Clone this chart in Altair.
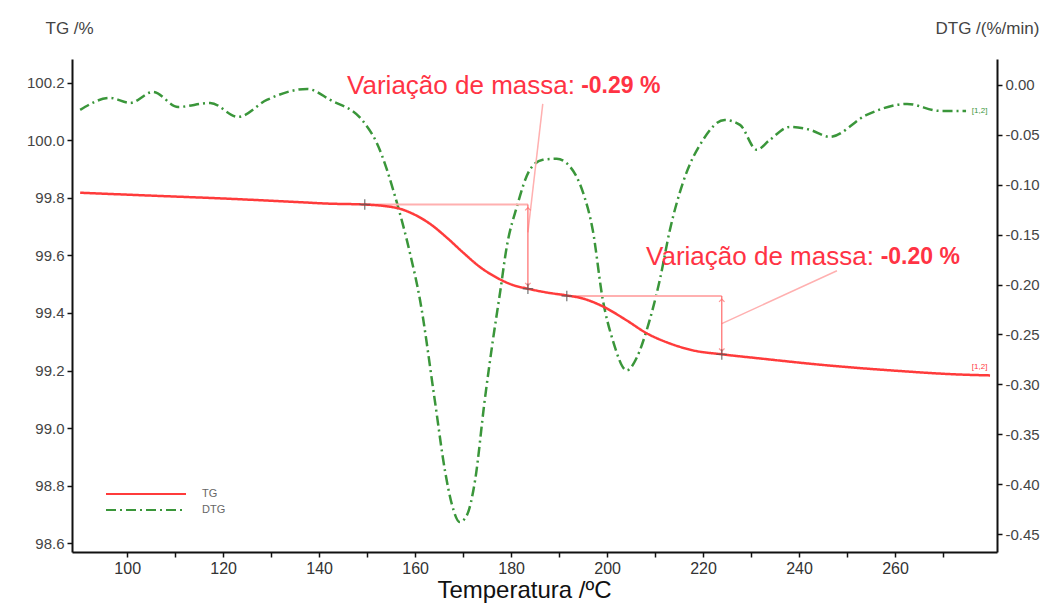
import altair as alt
import pandas as pd

# ---------------- data ----------------
tg_temp = [90.2, 105.0, 121.4, 135.0, 142.3, 149.5, 156.2, 159.5, 163.1, 166.6, 170.0,
           173.5, 177.1, 180.4, 183.3, 187.5, 191.6, 195.0, 199.1, 204.1, 208.3, 213.1,
           217.9, 224.1, 231.8, 245.8, 259.5, 273.5, 279.8]
tg_mass = [99.818, 99.808, 99.797, 99.786, 99.780, 99.777, 99.765, 99.745, 99.710, 99.662, 99.610,
           99.560, 99.522, 99.497, 99.485, 99.471, 99.461, 99.450, 99.423, 99.374, 99.329, 99.294,
           99.270, 99.256, 99.242, 99.218, 99.200, 99.186, 99.183]

dtg_temp = [90.2, 96.4, 100.6, 105.4, 110.6, 117.3, 123.1, 129.1, 137.5, 142.3, 149.1, 152.0,
            156.2, 158.9, 161.0, 164.1, 166.2, 167.7, 169.3, 170.8, 172.5, 174.5, 176.2, 177.7,
            179.1, 181.2, 183.9, 186.6, 189.5, 192.3, 195.0, 197.0, 199.1, 201.2, 204.1, 206.2,
            208.3, 211.0, 213.1, 215.8, 220.0, 224.5, 227.7, 231.2, 233.9, 238.1, 242.3, 246.4,
            254.1, 262.5, 269.3, 274.8]
dtg_rate = [-0.025, -0.013, -0.018, -0.007, -0.022, -0.018, -0.032, -0.015, -0.004, -0.015, -0.036, -0.058,
            -0.118, -0.168, -0.215, -0.316, -0.386, -0.421, -0.438, -0.431, -0.396, -0.316, -0.256, -0.208,
            -0.162, -0.122, -0.085, -0.075, -0.074, -0.082, -0.108, -0.145, -0.215, -0.256, -0.286, -0.273,
            -0.245, -0.195, -0.145, -0.098, -0.055, -0.035, -0.040, -0.065, -0.055, -0.042, -0.045, -0.052,
            -0.030, -0.019, -0.026, -0.026]

marker_temp = [149.5, 183.5, 191.6, 223.9]
marker_mass = [99.777, 99.484, 99.459, 99.256]

step_start_temp = [149.5, 191.6]
step_end_temp = [183.5, 223.9]
step_level = [99.777, 99.459]
step_bottom = [99.484, 99.256]
arrow_top = [99.766, 99.448]
arrow_bottom = [99.495, 99.267]

leader_start_temp = [186.6, 247.9]
leader_start_mass = [100.127, 99.547]
leader_end_temp = [183.5, 223.9]
leader_end_mass = [99.68, 99.363]

label_text = ["Variação de massa:", "Variação de massa:"]
label_temp = [193.3, 255.6]
label_mass = [100.19, 99.596]
value_text = ["-0.29 %", "-0.20 %"]
value_temp = [194.6, 257.0]

end_tag = ["[1,2]", "[1,2]"]
end_tag_temp = [276.0, 276.0]
tg_tag_mass = [99.197]
dtg_tag_rate = [-0.026]

series_names = ["TG", "DTG"]
series_colors = ["#ff3b3b", "#3a963a"]
series_dash = [[1, 0], [10, 4, 2, 4]]

x_ticks = [100, 110, 120, 130, 140, 150, 160, 170, 180, 190, 200, 210, 220, 230, 240, 250, 260, 270]
tg_ticks = [98.6, 98.7, 98.8, 98.9, 99.0, 99.1, 99.2, 99.3, 99.4, 99.5, 99.6, 99.7, 99.8, 99.9,
            100.0, 100.1, 100.2]
dtg_ticks = [0.0, -0.025, -0.05, -0.075, -0.1, -0.125, -0.15, -0.175, -0.2, -0.225, -0.25, -0.275,
             -0.3, -0.325, -0.35, -0.375, -0.4, -0.425, -0.45]

x_domain = [88.5, 281.25]
tg_domain = [98.569, 100.283]
dtg_domain = [-0.468, 0.026]

# ---------------- tables ----------------
tg_df = pd.DataFrame({"T": tg_temp, "v": tg_mass, "series": "TG"})
dtg_df = pd.DataFrame({"T": dtg_temp, "v": dtg_rate, "series": "DTG"})
marker_df = pd.DataFrame({"T": marker_temp, "v": marker_mass})
step_df = pd.DataFrame({"T": step_start_temp, "T2": step_end_temp, "v": step_level,
                        "vb": step_bottom, "at": arrow_top, "ab": arrow_bottom})
leader_df = pd.DataFrame({"T": leader_start_temp, "v": leader_start_mass,
                          "T2": leader_end_temp, "v2": leader_end_mass})
label_df = pd.DataFrame({"T": label_temp, "v": label_mass, "txt": label_text,
                         "Tv": value_temp, "val": value_text})
tg_tag_df = pd.DataFrame({"T": end_tag_temp[:1], "v": tg_tag_mass, "txt": end_tag[:1]})
dtg_tag_df = pd.DataFrame({"T": end_tag_temp[1:], "v": dtg_tag_rate, "txt": end_tag[1:]})

FONT = "Liberation Sans"
RED = "#ff3344"
PALE = "#ffb0b0"

xscale = alt.Scale(domain=x_domain, nice=False, zero=False)
xaxis = alt.Axis(values=x_ticks, title="Temperatura /ºC",
                 labelExpr="(datum.value % 20 == 0 && datum.value <= 260) ? datum.value : ''",
                 labelFont=FONT, labelFontSize=16, labelColor="#333", labelPadding=3,
                 titleFont=FONT, titleFontSize=24, titleFontWeight="normal", titleColor="#111",
                 titleX=452, titleY=45, titleBaseline="alphabetic", titleAnchor=None)
x_enc = alt.X("T:Q", scale=xscale, axis=xaxis)
x_plain = alt.X("T:Q", scale=xscale)

tg_scale = alt.Scale(domain=tg_domain, nice=False, zero=False)
tg_axis = alt.Axis(orient="left", values=tg_ticks, title="TG /%",
                   labelExpr="(round(datum.value*10) % 2 == 0) ? format(datum.value, '.1f') : ''",
                   labelFont=FONT, labelFontSize=15, labelColor="#444", labelPadding=3,
                   titleFont=FONT, titleFontSize=17, titleFontWeight="normal", titleColor="#444",
                   titleAngle=0, titleAlign="left", titleBaseline="alphabetic",
                   titleX=-27, titleY=-26)
dtg_scale = alt.Scale(domain=dtg_domain, nice=False, zero=False)
dtg_axis = alt.Axis(orient="right", values=dtg_ticks, title="DTG /(%/min)",
                    labelExpr="(round(datum.value*1000) % 50 == 0) ? replace(format(datum.value, '.2f'), '\u2212', '-') : ''",
                    labelFont=FONT, labelFontSize=15, labelColor="#444", labelPadding=3,
                    titleFont=FONT, titleFontSize=17, titleFontWeight="normal", titleColor="#444",
                    titleAngle=0, titleAlign="left", titleBaseline="alphabetic",
                    titleX=-62, titleY=-26)

color_enc = alt.Color("series:N", scale=alt.Scale(domain=series_names, range=series_colors),
                      legend=alt.Legend(orient="none", legendX=65, legendY=426, title=None,
                                        symbolType="M-5,0L5,0", symbolSize=256, symbolStrokeWidth=2,
                                        labelFont=FONT, labelFontSize=11, labelColor="#666",
                                        rowPadding=2, labelOffset=47))
dash_enc = alt.StrokeDash("series:N", scale=alt.Scale(domain=series_names, range=series_dash),
                          legend=None)

dtg_line = alt.Chart(dtg_df).mark_line(strokeWidth=2.5, interpolate="monotone").encode(
    x=x_enc, y=alt.Y("v:Q", scale=dtg_scale, axis=dtg_axis), color=color_enc, strokeDash=dash_enc)
dtg_tag = alt.Chart(dtg_tag_df).mark_text(align="left", baseline="middle", fontSize=8,
                                          font=FONT, color="#3a963a").encode(
    x=x_plain, y=alt.Y("v:Q", scale=dtg_scale), text="txt:N")
dtg_layer = alt.layer(dtg_line, dtg_tag)

tg_y = alt.Y("v:Q", scale=tg_scale, axis=tg_axis)
tg_line = alt.Chart(tg_df).mark_line(strokeWidth=2.5, interpolate="monotone").encode(
    x=x_enc, y=tg_y, color=color_enc, strokeDash=dash_enc)
steps = alt.Chart(step_df).mark_rule(color=PALE, strokeWidth=2).encode(
    x=x_plain, x2="T2", y=alt.Y("v:Q", scale=tg_scale))
verticals = alt.Chart(step_df).mark_rule(color="#ff6a6a", strokeWidth=1.2).encode(
    x=alt.X("T2:Q", scale=xscale), y=alt.Y("v:Q", scale=tg_scale), y2="vb")
head_up = alt.Chart(step_df).mark_point(shape="M-1,1L0,0L1,1", size=30, filled=False,
                                        color="#ff6a6a", strokeWidth=1.2).encode(
    x=alt.X("T2:Q", scale=xscale), y=alt.Y("at:Q", scale=tg_scale))
head_down = alt.Chart(step_df).mark_point(shape="M-1,-1L0,0L1,-1", size=30, filled=False,
                                          color="#ff6a6a", strokeWidth=1.2).encode(
    x=alt.X("T2:Q", scale=xscale), y=alt.Y("ab:Q", scale=tg_scale))
leaders = alt.Chart(leader_df).mark_rule(color=PALE, strokeWidth=1.5).encode(
    x=x_plain, x2="T2", y=alt.Y("v:Q", scale=tg_scale), y2="v2")
markers = alt.Chart(marker_df).mark_point(shape="M-1,0L1,0M0,-1L0,1", size=110, filled=False,
                                          color="#555", strokeWidth=1.4).encode(
    x=x_plain, y=alt.Y("v:Q", scale=tg_scale))
labels = alt.Chart(label_df).mark_text(align="right", baseline="middle", fontSize=26,
                                       font=FONT, color=RED).encode(
    x=x_plain, y=alt.Y("v:Q", scale=tg_scale), text="txt:N")
values = alt.Chart(label_df).mark_text(align="left", baseline="middle", fontSize=23,
                                       font=FONT, fontWeight="bold", color=RED).encode(
    x=alt.X("Tv:Q", scale=xscale), y=alt.Y("v:Q", scale=tg_scale), text="val:N")
tg_tag = alt.Chart(tg_tag_df).mark_text(align="left", baseline="bottom", fontSize=8,
                                        font=FONT, color="#ff3b3b").encode(
    x=x_plain, y=alt.Y("v:Q", scale=tg_scale), text="txt:N")

tg_layer = alt.layer(steps, leaders, verticals, head_up, head_down, tg_line, markers,
                     labels, values, tg_tag)

chart = alt.layer(dtg_layer, tg_layer).resolve_scale(y="independent").properties(
    width=925, height=493,
    autosize=alt.AutoSizeParams(type="none"),
    padding={"left": 64, "top": 51, "right": 58, "bottom": 53},
    background="white",
).configure_view(stroke=None).configure_axis(
    grid=False, domainColor="#111", domainWidth=2, tickColor="#111", tickWidth=1.5, tickSize=5
)

chart.save("out.html", embed_options={"renderer": "svg", "actions": False})
